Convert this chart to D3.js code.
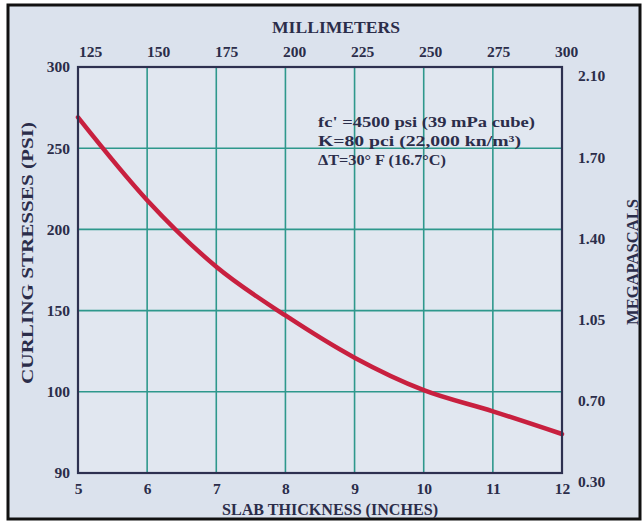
<!DOCTYPE html>
<html>
<head>
<meta charset="utf-8">
<script src="https://cdn.jsdelivr.net/npm/d3@7/dist/d3.min.js"></script>
<style>
  html, body { margin: 0; padding: 0; background: #ffffff; }
  svg { display: block; }
  text { font-family: "Liberation Serif", "DejaVu Serif", serif; font-weight: bold; fill: #2b2d4a; }
</style>
</head>
<body>
<svg id="chart" width="644" height="525"></svg>
<script>
// ---- data ----
const thicknessIn = [5, 6, 7, 8, 9, 10, 11, 12];
const curlingStressPsi = [269, 218, 177, 147, 121, 101, 88, 74];

const inchTicks = [5, 6, 7, 8, 9, 10, 11, 12];
const inchTickLabels = ["5", "6", "7", "8", "9", "10", "11", "12"];
const mmTicks = [125, 150, 175, 200, 225, 250, 275, 300];
const psiTicks = [50, 100, 150, 200, 250, 300];
const psiTickLabels = ["90", "100", "150", "200", "250", "300"];
const mpaTickLabels = ["0.30", "0.70", "1.05", "1.40", "1.70", "2.10"];
const noteLines = ["fc' =4500 psi  (39 mPa cube)", "K=80 pci  (22,000 kn/m\u00B3)", "\u0394T=30\u00B0 F (16.7\u00B0C)"];
const noteWidths = [217, 203, 128];

// ---- layout ----
const svg = d3.select("#chart");
const L = 78, R = 562, T = 67, B = 473;

svg.append("rect").attr("x", 8).attr("y", 5).attr("width", 632).attr("height", 514)
  .attr("fill", "#dbe2ed").attr("stroke", "#111").attr("stroke-width", 3);

const x = d3.scaleLinear().domain([5, 12]).range([L, R]);
const y = d3.scaleLinear().domain([50, 300]).range([B, T]);
const xmm = d3.scaleLinear().domain([125, 300]).range([L + 12, R + 4]);
const yR = d3.scaleLinear().domain([0, psiTicks.length - 1]).range([B, T]);

// plot background
svg.append("rect").attr("x", L).attr("y", T).attr("width", R - L).attr("height", B - T)
  .attr("fill", "#e1e7f0");

// grid
const g = svg.append("g");
g.selectAll("line.v").data(inchTicks.slice(1, -1)).join("line")
  .attr("x1", d => x(d)).attr("x2", d => x(d)).attr("y1", T).attr("y2", B)
  .attr("stroke", "#2e988c").attr("stroke-width", 1.6);
g.selectAll("line.h").data(psiTicks.slice(1, -1)).join("line")
  .attr("x1", L).attr("x2", R).attr("y1", d => y(d)).attr("y2", d => y(d))
  .attr("stroke", "#2e988c").attr("stroke-width", 1.6);

// curve
const line = d3.line().x((d, i) => x(thicknessIn[i])).y(d => y(d)).curve(d3.curveMonotoneX);
svg.append("path").datum(curlingStressPsi).attr("d", line)
  .attr("fill", "none").attr("stroke", "#c8203f").attr("stroke-width", 4.5).attr("stroke-linecap", "round");

// frame
svg.append("rect").attr("x", L).attr("y", T).attr("width", R - L).attr("height", B - T)
  .attr("fill", "none").attr("stroke", "#2d3050").attr("stroke-width", 2.2);

// axes (labels only, domain/tick lines hidden)
const bottomAxis = d3.axisBottom(x).tickValues(inchTicks).tickSize(0).tickPadding(10)
  .tickFormat((d, i) => inchTickLabels[i]);
const ba = svg.append("g").attr("transform", `translate(0,${B})`).call(bottomAxis);
const topAxis = d3.axisTop(xmm).tickValues(mmTicks).tickSize(0).tickPadding(10).tickFormat(d3.format("d"));
const ta = svg.append("g").attr("transform", `translate(0,${T})`).call(topAxis);
const leftAxis = d3.axisLeft(y).tickValues(psiTicks).tickSize(0).tickPadding(8)
  .tickFormat((d, i) => psiTickLabels[i]);
const la = svg.append("g").attr("transform", `translate(${L},0)`).call(leftAxis);
const rightAxis = d3.axisRight(yR).tickValues(d3.range(mpaTickLabels.length)).tickSize(0).tickPadding(16)
  .tickFormat((d, i) => mpaTickLabels[i]);
const ra = svg.append("g").attr("transform", `translate(${R},9)`).call(rightAxis);

[ba, ta, la, ra].forEach(a => {
  a.select(".domain").remove();
  a.selectAll("text").attr("font-family", "Liberation Serif, serif").attr("font-weight", "bold")
    .attr("font-size", 15.5).attr("fill", "#2b2d4a");
});

// axis titles
svg.append("text").attr("x", 336).attr("y", 33).attr("text-anchor", "middle")
  .attr("font-size", 16).attr("textLength", 128).attr("lengthAdjust", "spacingAndGlyphs").text("MILLIMETERS");
svg.append("text").attr("x", 330).attr("y", 515).attr("text-anchor", "middle")
  .attr("font-size", 17).attr("textLength", 216).attr("lengthAdjust", "spacingAndGlyphs").text("SLAB THICKNESS (INCHES)");
svg.append("text").attr("transform", "translate(33,253) rotate(-90)").attr("text-anchor", "middle")
  .attr("font-size", 16).attr("textLength", 262).attr("lengthAdjust", "spacingAndGlyphs").text("CURLING STRESSES (PSI)");
svg.append("text").attr("transform", "translate(638,262) rotate(-90)").attr("text-anchor", "middle")
  .attr("font-size", 16).attr("textLength", 126).attr("lengthAdjust", "spacingAndGlyphs").text("MEGAPASCALS");

// annotation
svg.append("g").selectAll("text").data(noteLines).join("text")
  .attr("x", 318).attr("y", (d, i) => 127 + i * 19)
  .attr("font-size", 15).attr("textLength", (d, i) => noteWidths[i]).attr("lengthAdjust", "spacingAndGlyphs")
  .text(d => d);
</script>
</body>
</html>
